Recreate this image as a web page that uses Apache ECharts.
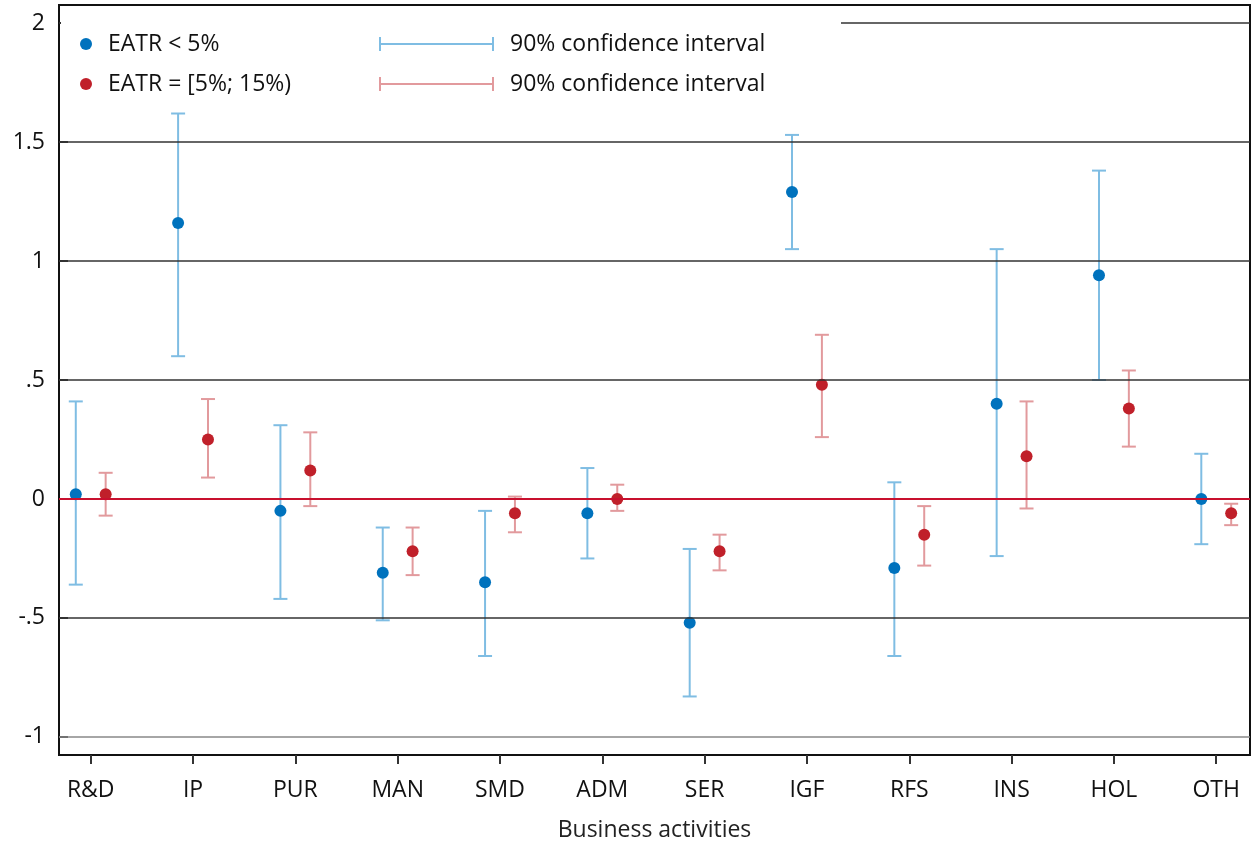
<!DOCTYPE html>
<html>
<head>
<meta charset="utf-8">
<script src="https://cdn.jsdelivr.net/npm/echarts@6/dist/echarts.min.js"></script>
<style>html,body{margin:0;padding:0;background:#fff}#chart{width:1252px;height:850px}</style>
</head>
<body>
<div id="chart"></div>
<script>
var categories = ['R&D', 'IP', 'PUR', 'MAN', 'SMD', 'ADM', 'SER', 'IGF', 'RFS', 'INS', 'HOL', 'OTH'];
// EATR < 5%
var lowPoint = [0.02, 1.16, -0.05, -0.31, -0.35, -0.06, -0.52, 1.29, -0.29, 0.40, 0.94, 0.00];
var lowLower = [-0.36, 0.60, -0.42, -0.51, -0.66, -0.25, -0.83, 1.05, -0.66, -0.24, 0.50, -0.19];
var lowUpper = [0.41, 1.62, 0.31, -0.12, -0.05, 0.13, -0.21, 1.53, 0.07, 1.05, 1.38, 0.19];
// EATR = [5%; 15%)
var midPoint = [0.02, 0.25, 0.12, -0.22, -0.06, 0.00, -0.22, 0.48, -0.15, 0.18, 0.38, -0.06];
var midLower = [-0.07, 0.09, -0.03, -0.32, -0.14, -0.05, -0.30, 0.26, -0.28, -0.04, 0.22, -0.11];
var midUpper = [0.11, 0.42, 0.28, -0.12, 0.01, 0.06, -0.15, 0.69, -0.03, 0.41, 0.54, -0.02];
var yTicks = [-1, -0.5, 0, 0.5, 1, 1.5, 2];

var BLUE = '#0072bd', BLUE_CI = '#7fbde3';
var RED = '#c0202a', RED_CI = '#e29a9d';
var FONT = 'Open Sans';
var FS = 23;

function errData(point, lower, upper, off) {
    return categories.map(function(c, i) { return [i + off, point[i], lower[i], upper[i]]; });
}

function makeRender(dotColor, ciColor) {
    return function(params, api) {
        var p = api.coord([api.value(0), api.value(1)]);
        var lo = api.coord([api.value(0), api.value(2)]);
        var hi = api.coord([api.value(0), api.value(3)]);
        var w = 7;
        var ls = { stroke: ciColor, lineWidth: 2 };
        return {
            type: 'group',
            children: [
                { type: 'line', shape: { x1: p[0], y1: lo[1], x2: p[0], y2: hi[1] }, style: ls },
                { type: 'line', shape: { x1: p[0] - w, y1: lo[1], x2: p[0] + w, y2: lo[1] }, style: ls },
                { type: 'line', shape: { x1: p[0] - w, y1: hi[1], x2: p[0] + w, y2: hi[1] }, style: ls },
                { type: 'circle', shape: { cx: p[0], cy: p[1], r: 6 }, style: { fill: dotColor } }
            ]
        };
    };
}

var gridLines = yTicks.filter(function(v) { return v !== 0; }).map(function(v) {
    return { yAxis: v, lineStyle: { color: v === -1 ? '#888' : '#333', width: 1.5, type: 'solid' } };
});
gridLines.push({ yAxis: 0, lineStyle: { color: '#c8102e', width: 2, type: 'solid' } });

var chart = echarts.init(document.getElementById('chart'));
chart.setOption({
    animation: false,
    grid: { left: 59, right: 2, top: 5, bottom: 95, show: true, borderColor: '#111', borderWidth: 2 },
    xAxis: {
        type: 'value', min: -0.31, max: 11.33,
        name: 'Business activities', nameLocation: 'middle', nameGap: 64,
        nameTextStyle: { fontFamily: FONT, fontSize: FS, color: '#222' },
        axisLine: { show: false, onZero: false },
        splitLine: { show: false },
        axisTick: { show: true, length: 9, lineStyle: { color: '#333', width: 2 }, customValues: categories.map(function(c, i) { return i; }) },
        axisLabel: {
            customValues: categories.map(function(c, i) { return i; }),
            formatter: function(v) { return categories[Math.round(v)]; },
            fontFamily: FONT, fontSize: FS, color: '#111', margin: 24
        }
    },
    yAxis: {
        type: 'value', min: -1.076, max: 2.076,
        axisLine: { show: false, onZero: false },
        splitLine: { show: false },
        axisTick: { show: true, inside: true, length: 9, lineStyle: { color: '#333', width: 2 }, customValues: yTicks },
        axisLabel: {
            customValues: yTicks,
            formatter: function(v) {
                var s = String(v);
                return s.replace(/^0\./, '.').replace(/^-0\./, '-.');
            },
            fontFamily: FONT, fontSize: FS, color: '#111', margin: 14
        }
    },
    series: [
        {
            type: 'line', data: [], silent: true,
            markLine: { silent: true, symbol: 'none', label: { show: false }, data: gridLines }
        },
        { type: 'custom', renderItem: makeRender(BLUE, BLUE_CI), data: errData(lowPoint, lowLower, lowUpper, -0.146), z: 3 },
        { type: 'custom', renderItem: makeRender(RED, RED_CI), data: errData(midPoint, midLower, midUpper, 0.146), z: 3 }
    ],
    graphic: [
        { type: 'rect', shape: { x: 61, y: 6, width: 780, height: 96 }, style: { fill: '#fff' }, z: 10 },
        { type: 'circle', shape: { cx: 86, cy: 44, r: 6 }, style: { fill: BLUE }, z: 11 },
        { type: 'text', x: 108, y: 44, style: { text: 'EATR < 5%', fontFamily: FONT, fontSize: FS, fill: '#111', verticalAlign: 'middle' }, z: 11 },
        { type: 'circle', shape: { cx: 86, cy: 84, r: 6 }, style: { fill: RED }, z: 11 },
        { type: 'text', x: 108, y: 84, style: { text: 'EATR = [5%; 15%)', fontFamily: FONT, fontSize: FS, fill: '#111', verticalAlign: 'middle' }, z: 11 },
        { type: 'polyline', shape: { points: [[380, 37], [380, 51], [380, 44], [493, 44], [493, 37], [493, 51]] }, style: { stroke: BLUE_CI, lineWidth: 2, fill: null }, z: 11 },
        { type: 'text', x: 510, y: 44, style: { text: '90% confidence interval', fontFamily: FONT, fontSize: FS, fill: '#111', verticalAlign: 'middle' }, z: 11 },
        { type: 'polyline', shape: { points: [[380, 77], [380, 91], [380, 84], [493, 84], [493, 77], [493, 91]] }, style: { stroke: RED_CI, lineWidth: 2, fill: null }, z: 11 },
        { type: 'text', x: 510, y: 84, style: { text: '90% confidence interval', fontFamily: FONT, fontSize: FS, fill: '#111', verticalAlign: 'middle' }, z: 11 }
    ]
});
</script>
</body>
</html>
